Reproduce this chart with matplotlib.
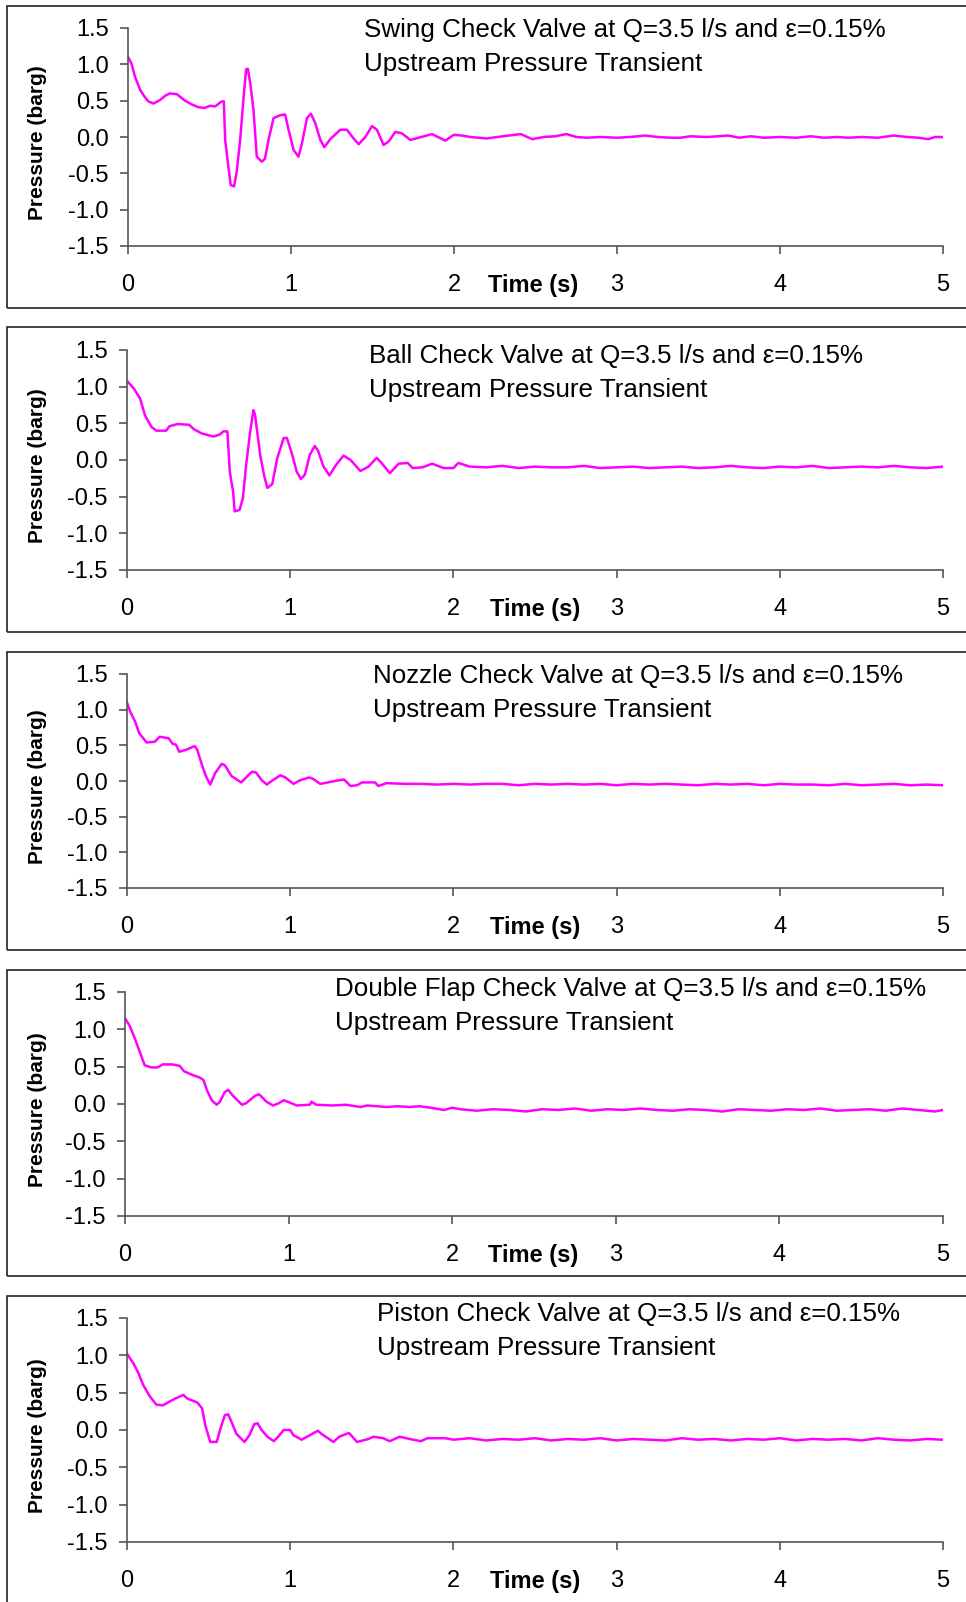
import matplotlib
matplotlib.use("Agg")
import matplotlib.pyplot as plt
from matplotlib.patches import Rectangle

plt.rcParams['font.family'] = ['Liberation Sans', 'DejaVu Sans']

W, H = 966, 1602

valves = ["Swing", "Ball", "Nozzle", "Double Flap", "Piston"]

# time (s) / pressure (barg)
swing_t = [0, 0.02, 0.043, 0.074, 0.1, 0.125, 0.156, 0.197, 0.23, 0.258, 0.299, 0.35, 0.39, 0.432, 0.47,
           0.504, 0.534, 0.575, 0.588, 0.596, 0.616, 0.63, 0.651, 0.667, 0.688, 0.713, 0.725, 0.735, 0.75,
           0.77, 0.79, 0.821, 0.84, 0.862, 0.893, 0.934, 0.964, 0.985, 1.016, 1.046, 1.067, 1.098, 1.122,
           1.149, 1.18, 1.204, 1.241, 1.302, 1.343, 1.384, 1.415, 1.456, 1.497, 1.527, 1.568, 1.6, 1.64,
           1.68, 1.732, 1.8, 1.865, 1.947, 1.998, 2.05, 2.1, 2.2, 2.3, 2.41, 2.48, 2.55, 2.62, 2.69, 2.75,
           2.81, 2.9, 3.0, 3.08, 3.17, 3.25, 3.33, 3.39, 3.45, 3.55, 3.62, 3.68, 3.75, 3.82, 3.9, 4.0, 4.1,
           4.19, 4.27, 4.35, 4.42, 4.5, 4.6, 4.7, 4.78, 4.85, 4.91, 4.95, 5.0]
swing_p = [1.1, 1.02, 0.83, 0.65, 0.56, 0.49, 0.46, 0.51, 0.57, 0.60, 0.59, 0.50, 0.45, 0.41, 0.40,
           0.43, 0.42, 0.49, 0.49, -0.04, -0.41, -0.66, -0.68, -0.48, -0.04, 0.65, 0.93, 0.94, 0.74,
           0.37, -0.27, -0.34, -0.30, -0.04, 0.26, 0.30, 0.31, 0.10, -0.18, -0.27, -0.09, 0.26, 0.32,
           0.19, -0.04, -0.14, -0.03, 0.10, 0.10, -0.02, -0.10, 0.00, 0.15, 0.10, -0.11, -0.06, 0.07,
           0.05, -0.04, 0.00, 0.04, -0.05, 0.03, 0.02, 0.0, -0.02, 0.01, 0.04, -0.03, 0.0, 0.01, 0.04, 0.0,
           -0.01, 0.0, -0.01, 0.0, 0.02, 0.0, -0.01, -0.01, 0.01, 0.0, 0.01, 0.02, -0.01, 0.01, -0.01, 0.0, -0.01,
           0.01, -0.01, 0.0, -0.01, 0.0, -0.01, 0.02, 0.0, -0.01, -0.03, 0.0, 0.0]

ball_t = [0, 0.04, 0.08, 0.11, 0.15, 0.18, 0.24, 0.26, 0.31, 0.38, 0.41, 0.46, 0.53, 0.57, 0.59, 0.615,
          0.63, 0.65, 0.66, 0.69, 0.71, 0.73, 0.755, 0.775, 0.785, 0.816, 0.84, 0.86, 0.89, 0.92, 0.96,
          0.98, 1.01, 1.04, 1.066, 1.09, 1.12, 1.15, 1.17, 1.204, 1.24, 1.28, 1.327, 1.37, 1.43, 1.48,
          1.53, 1.56, 1.61, 1.665, 1.72, 1.75, 1.81, 1.87, 1.94, 2.0, 2.03, 2.1, 2.2, 2.3, 2.4, 2.5, 2.6,
          2.7, 2.8, 2.9, 3.0, 3.1, 3.2, 3.3, 3.4, 3.5, 3.6, 3.7, 3.8, 3.9, 4.0, 4.1, 4.2, 4.3, 4.4, 4.5,
          4.6, 4.7, 4.8, 4.9, 5.0]
ball_p = [1.08, 0.98, 0.84, 0.61, 0.45, 0.40, 0.40, 0.46, 0.49, 0.48, 0.42, 0.36, 0.32, 0.35, 0.39, 0.39,
          -0.16, -0.43, -0.70, -0.68, -0.52, -0.07, 0.39, 0.68, 0.61, 0.07, -0.21, -0.38, -0.33, 0.02, 0.30,
          0.30, 0.09, -0.16, -0.26, -0.20, 0.07, 0.19, 0.13, -0.09, -0.21, -0.07, 0.06, 0.0, -0.15, -0.09,
          0.03, -0.04, -0.18, -0.05, -0.04, -0.11, -0.10, -0.05, -0.11, -0.11, -0.04, -0.09, -0.10, -0.08,
          -0.11, -0.09, -0.10, -0.10, -0.08, -0.11, -0.10, -0.09, -0.11, -0.10, -0.09, -0.11, -0.10, -0.08,
          -0.10, -0.11, -0.09, -0.10, -0.08, -0.11, -0.10, -0.09, -0.10, -0.08, -0.10, -0.11, -0.09]

nozzle_t = [0, 0.02, 0.05, 0.075, 0.12, 0.17, 0.2, 0.255, 0.28, 0.3, 0.32, 0.365, 0.415, 0.43, 0.46,
            0.485, 0.51, 0.54, 0.58, 0.6, 0.64, 0.7, 0.765, 0.79, 0.826, 0.857, 0.88, 0.94, 0.97, 1.02,
            1.06, 1.117, 1.14, 1.184, 1.23, 1.297, 1.33, 1.37, 1.41, 1.44, 1.52, 1.54, 1.59, 1.7, 1.8,
            1.9, 2.0, 2.1, 2.2, 2.3, 2.4, 2.5, 2.6, 2.7, 2.8, 2.9, 3.0, 3.1, 3.2, 3.3, 3.4, 3.5, 3.6, 3.7,
            3.8, 3.9, 4.0, 4.1, 4.2, 4.3, 4.4, 4.5, 4.6, 4.7, 4.8, 4.9, 5.0]
nozzle_p = [1.10, 0.97, 0.83, 0.67, 0.54, 0.55, 0.62, 0.60, 0.52, 0.51, 0.41, 0.44, 0.49, 0.44, 0.22,
            0.06, -0.05, 0.11, 0.24, 0.22, 0.07, -0.02, 0.13, 0.12, 0.01, -0.05, -0.01, 0.08, 0.05, -0.04,
            0.01, 0.05, 0.03, -0.04, -0.02, 0.01, 0.02, -0.07, -0.06, -0.02, -0.02, -0.07, -0.03, -0.04,
            -0.04, -0.05, -0.04, -0.05, -0.04, -0.04, -0.06, -0.04, -0.05, -0.04, -0.05, -0.04, -0.06,
            -0.04, -0.05, -0.04, -0.05, -0.06, -0.04, -0.05, -0.04, -0.06, -0.04, -0.05, -0.05, -0.06,
            -0.04, -0.06, -0.05, -0.04, -0.06, -0.05, -0.06]

double_t = [0, 0.03, 0.06, 0.09, 0.12, 0.16, 0.2, 0.23, 0.29, 0.335, 0.36, 0.4, 0.46, 0.48, 0.5, 0.53,
            0.56, 0.58, 0.61, 0.63, 0.66, 0.715, 0.74, 0.795, 0.82, 0.865, 0.905, 0.94, 0.97, 0.995, 1.05,
            1.13, 1.14, 1.17, 1.27, 1.35, 1.44, 1.48, 1.6, 1.66, 1.74, 1.8, 1.87, 1.95, 2.0, 2.05, 2.15,
            2.25, 2.35, 2.45, 2.55, 2.65, 2.75, 2.85, 2.95, 3.05, 3.15, 3.25, 3.35, 3.45, 3.55, 3.65, 3.75,
            3.85, 3.95, 4.05, 4.15, 4.25, 4.35, 4.45, 4.55, 4.65, 4.75, 4.85, 4.95, 5.0]
double_p = [1.15, 1.04, 0.88, 0.70, 0.52, 0.49, 0.49, 0.53, 0.53, 0.51, 0.44, 0.40, 0.35, 0.32, 0.19,
            0.05, -0.01, 0.03, 0.16, 0.19, 0.11, -0.01, 0.01, 0.11, 0.13, 0.03, -0.02, 0.01, 0.05, 0.03,
            -0.02, -0.01, 0.03, -0.01, -0.02, -0.01, -0.04, -0.02, -0.04, -0.03, -0.04, -0.03, -0.05,
            -0.08, -0.05, -0.07, -0.09, -0.07, -0.08, -0.10, -0.07, -0.08, -0.06, -0.09, -0.07, -0.08,
            -0.06, -0.08, -0.09, -0.07, -0.08, -0.10, -0.07, -0.08, -0.09, -0.07, -0.08, -0.06, -0.09,
            -0.08, -0.07, -0.09, -0.06, -0.08, -0.10, -0.08]

piston_t = [0, 0.04, 0.07, 0.1, 0.14, 0.18, 0.22, 0.26, 0.295, 0.345, 0.37, 0.43, 0.46, 0.48, 0.51,
            0.55, 0.57, 0.6, 0.62, 0.64, 0.67, 0.72, 0.75, 0.78, 0.8, 0.825, 0.86, 0.9, 0.93, 0.96, 1.0,
            1.02, 1.07, 1.12, 1.17, 1.19, 1.265, 1.3, 1.36, 1.41, 1.48, 1.51, 1.57, 1.61, 1.67, 1.71, 1.8,
            1.84, 1.95, 2.0, 2.1, 2.2, 2.3, 2.4, 2.5, 2.6, 2.7, 2.8, 2.9, 3.0, 3.1, 3.2, 3.3, 3.4, 3.5,
            3.6, 3.7, 3.8, 3.9, 4.0, 4.1, 4.2, 4.3, 4.4, 4.5, 4.6, 4.7, 4.8, 4.9, 5.0]
piston_p = [1.02, 0.89, 0.76, 0.60, 0.45, 0.34, 0.33, 0.38, 0.42, 0.47, 0.42, 0.37, 0.29, 0.06, -0.16,
            -0.16, 0.0, 0.20, 0.21, 0.11, -0.05, -0.16, -0.07, 0.08, 0.09, 0.0, -0.09, -0.15, -0.08, 0.0,
            0.0, -0.07, -0.13, -0.07, -0.01, -0.05, -0.16, -0.09, -0.04, -0.16, -0.12, -0.09, -0.11, -0.15,
            -0.09, -0.11, -0.15, -0.11, -0.11, -0.13, -0.11, -0.14, -0.12, -0.13, -0.11, -0.14, -0.12,
            -0.13, -0.11, -0.14, -0.12, -0.13, -0.14, -0.11, -0.13, -0.12, -0.14, -0.12, -0.13, -0.11,
            -0.14, -0.12, -0.13, -0.12, -0.14, -0.11, -0.13, -0.14, -0.12, -0.13]

series = [(swing_t, swing_p), (ball_t, ball_p), (nozzle_t, nozzle_p), (double_t, double_p), (piston_t, piston_p)]

x_ticks = [0, 1, 2, 3, 4, 5]
y_ticks = [-1.5, -1.0, -0.5, 0.0, 0.5, 1.0, 1.5]

# layout in pixels: axes (left, top, bottom), frame (top, bottom), title left and baselines
axes_px = [(128, 28, 246), (127, 350, 570), (127, 674, 888), (125, 992, 1216), (127, 1318, 1542)]
frame_px = [(6, 308), (327, 632), (652, 950), (970, 1276), (1296, 1640)]
title_px = [(364, 37, 71), (369, 363, 397), (373, 683, 717), (335, 996, 1030), (377, 1321, 1355)]
xlabel_left = [488, 490, 490, 488, 490]
right_px = 943


def fx(x):
    return x / W


def fy(y):
    return 1 - y / H


fig = plt.figure(figsize=(W / 100, H / 100), dpi=100)

for i, name in enumerate(valves):
    ft, fb = frame_px[i]
    fig.patches.append(Rectangle((fx(7), fy(fb)), fx(1100), (fb - ft) / H, transform=fig.transFigure,
                                 fill=False, edgecolor='#222222', linewidth=1.2))

    left, top, bottom = axes_px[i]
    ax = fig.add_axes([fx(left), fy(bottom), (right_px - left) / W, (bottom - top) / H])
    t, p = series[i]
    ax.plot(t, p, color='#ff00ff', linewidth=1.8)
    ax.set_xlim(0, 5)
    ax.set_ylim(-1.5, 1.5)
    ax.set_xticks(x_ticks)
    ax.set_xticklabels([str(v) for v in x_ticks])
    ax.set_yticks(y_ticks)
    ax.set_yticklabels(["%.1f" % v for v in y_ticks])
    for s in ['top', 'right']:
        ax.spines[s].set_visible(False)
    for s in ['left', 'bottom']:
        ax.spines[s].set_color('#555555')
        ax.spines[s].set_linewidth(1.2)
    ax.tick_params(axis='both', direction='out', length=6, width=1.2, color='#555555', labelsize=17)
    ax.tick_params(axis='x', pad=14)
    ax.tick_params(axis='y', pad=8)
    ax.patch.set_alpha(0)

    fig.text(fx(38), fy((top + bottom) / 2 + 6), "Pressure (barg)", rotation=90, ha='center', va='center',
             fontsize=15, fontweight='bold')
    fig.text(fx(xlabel_left[i]), fy(bottom + 46), "Time (s)", ha='left', va='baseline',
             fontsize=17, fontweight='bold')

    tx, b1, b2 = title_px[i]
    fig.text(fx(tx), fy(b1), name + " Check Valve at Q=3.5 l/s and \u03b5=0.15%", ha='left', va='baseline',
             fontsize=18.7)
    fig.text(fx(tx), fy(b2), "Upstream Pressure Transient", ha='left', va='baseline', fontsize=18.7)

fig.savefig("out.png", dpi=100)
